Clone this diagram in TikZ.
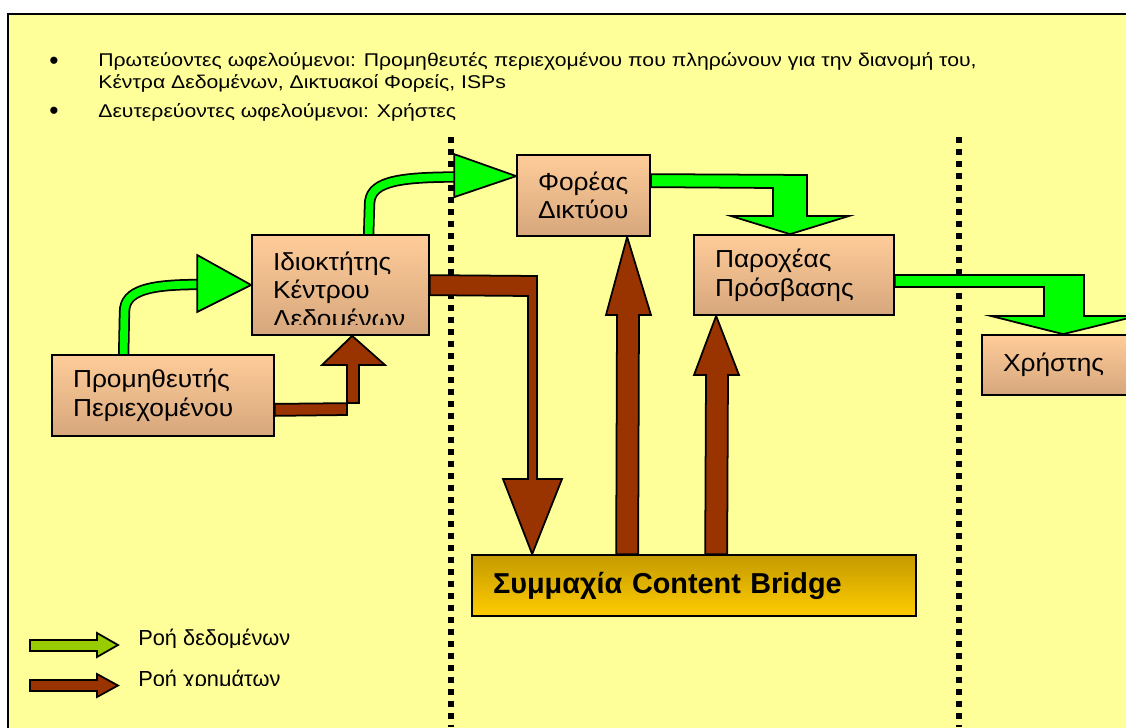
\documentclass[tikz,border=0pt]{standalone}
\usepackage{fontspec}
\setmainfont{Liberation Sans}
\newfontfamily\widefont[FakeStretch=1.15]{Liberation Sans}
\newfontfamily\boxfont[FakeStretch=1.07]{Liberation Sans}
\usetikzlibrary{calc,backgrounds}
\pgfdeclarelayer{paper}
\pgfsetlayers{paper,background,main}

\definecolor{slide}{HTML}{FFFF99}
\definecolor{peachtop}{HTML}{FFCC99}
\definecolor{peachbot}{HTML}{D6A77D}
\definecolor{flowgreen}{HTML}{00FF00}
\definecolor{money}{HTML}{993300}
\definecolor{goldtop}{HTML}{C49A00}
\definecolor{goldbot}{HTML}{FFCC00}
\definecolor{keygreen}{HTML}{99CC00}

\begin{document}
\begin{tikzpicture}[x=0.02cm, y=-0.02cm,
  box/.style={draw=black, line width=1pt, top color=peachtop, bottom color=peachbot,
    inner xsep=0.42cm, inner ysep=0pt, align=left, font=\boxfont\fontsize{14}{16.3}\selectfont},
  boxtext/.style={inner sep=0pt, align=left, font=\boxfont\fontsize{14}{16.3}\selectfont},
  datashaft/.style={draw=black, line width=1pt, double=flowgreen, double distance=0.155cm},
  data/.style={draw=black, line width=1pt, fill=flowgreen, line join=miter},
  cash/.style={draw=black, line width=1pt, fill=money, line join=miter},
  divider/.style={line width=0.11cm, dash pattern=on 0.12cm off 0.12cm},
  bullettext/.style={anchor=base west, inner sep=0pt, align=left, font=\widefont\fontsize{10.5}{12.2}\selectfont},
  keytext/.style={anchor=base west, inner sep=0pt, font=\fontsize{12.4}{14}\selectfont}]
\useasboundingbox (0,0) rectangle (1126,727);
\clip (0,0) rectangle (1126,727);

\begin{pgfonlayer}{paper}
  \clip (0,0) rectangle (1126,727);
  \fill[white] (0,0) rectangle (1126,727);
  \draw[line width=1.1pt, fill=slide] (8,14) rectangle (1160,760);
  \foreach \x in {451,959}
    \draw[divider] (\x,137) -- (\x,727);
\end{pgfonlayer}

\foreach \n/\y in {1/69.5,2/119}
  \node[anchor=base, inner sep=0pt, font=\fontsize{15}{15}\selectfont] (dot\n) at (54,\y) {•};
\node[bullettext] (item1) at (98,88)
  {Πρωτεύοντες ωφελούμενοι: Προμηθευτές περιεχομένου που πληρώνουν για την διανομή του,\\
   Κέντρα Δεδομένων, Δικτυακοί Φορείς, ISPs};
\node[bullettext] (item2) at (98,117) {Δευτερεύοντες ωφελούμενοι: Χρήστες};

\node[box, text width=3.6cm, minimum height=1.62cm] (prov) at (163,395.5) {Προμηθευτής\\Περιεχομένου};
\node[box, text width=2.7cm, minimum height=2cm] (owner) at (340.5,285) {};
\node[box, text width=1.82cm, minimum height=1.62cm] (net) at (583.5,195.5) {Φορέας\\Δικτύου};
\node[box, text width=3.16cm, minimum height=1.6cm] (isp) at (794,275) {Παροχέας\\Πρόσβασης};
\node[box, text width=2.52cm, minimum height=1.2cm] (user) at (1066,365) {Χρήστης};
\node[box, text width=8.04cm, minimum height=1.22cm, top color=goldtop, bottom color=goldbot,
  font=\bfseries\fontsize{16.4}{19}\selectfont] (bridge) at (694,585.5) {Συμμαχία Content Bridge};

\begin{scope}
  \clip (owner.north west) rectangle ($(owner.south east)+(0,-11)$);
  \node[boxtext, text width=2.7cm] (ownername) at ($(owner.center)+(0,7)$)
    {Ιδιοκτήτης\\Κέντρου\\Δεδομένων};
\end{scope}

\begin{pgfonlayer}{background}
  \clip (0,0) rectangle (1126,727);
  % data flow
  \draw[datashaft] ($(prov.north west)+(72.5,0)$) -- (124.5,312)
    .. controls (124.5,290) and (150,284.5) .. (200,284.5);
  \draw[data] ($(owner.west)+(-54,-30)$) -- (owner.west) -- ($(owner.west)+(-54,27)$) -- cycle;
  \draw[datashaft] ($(owner.north west)+(117.5,0)$) -- (369.5,205)
    .. controls (369.5,183) and (392,177) .. (458,177);
  \draw[data] ($(net.north west)+(-62,0)$) -- ($(net.north west)+(0,22)$) -- ($(net.north west)+(-62,43)$) -- cycle;
  \draw[data] ($(net.north east)+(0,20)$) -- (807,175) -- (807,216) -- (849,216)
    -- ($(isp.north)+(-4,0)$) -- (731,216) -- (773,216) -- (773,188) -- ($(net.north east)+(0,33)$) -- cycle;
  \draw[data] (isp.east) -- (1084,275) -- (1084,316) -- (1137,316)
    -- ($(user.north west)+(82,0)$) -- (991,316) -- (1044,316) -- (1044,287) -- ($(isp.east)+(0,12)$) -- cycle;
  % money flow
  \draw[cash] ($(prov.south east)+(0,-33)$) -- (359,403) -- (359,365) -- (385,365)
    -- ($(owner.south west)+(101,0)$) -- (322,365) -- (347,365) -- (347,415) -- ($(prov.south east)+(0,-21)$) -- cycle;
  \draw[cash] ($(owner.north east)+(0,41)$) -- (537,276) -- (537,479) -- (562,479)
    -- ($(bridge.north west)+(61,0)$) -- (503,479) -- (528,479) -- (528,296) -- ($(owner.north east)+(0,61)$) -- cycle;
  \draw[cash] ($(bridge.north west)+(145,0)$) -- (617,315) -- (606,315)
    -- ($(net.south west)+(111,0)$) -- (651,315) -- (639,315) -- ($(bridge.north west)+(167,0)$) -- cycle;
  \draw[cash] ($(bridge.north west)+(234,0)$) -- (706,375) -- (694,375)
    -- ($(isp.south west)+(23,0)$) -- (739,375) -- (728,375) -- ($(bridge.north west)+(256,0)$) -- cycle;
\end{pgfonlayer}

\draw[line width=1pt, fill=keygreen] (30,640) -- (97,640) -- (97,633) -- (118,645)
  -- (97,657) -- (97,651) -- (30,651) -- cycle;
\draw[line width=1pt, fill=money] (30,680) -- (97,680) -- (97,674) -- (118,685.5)
  -- (97,697) -- (97,691) -- (30,691) -- cycle;
\begin{scope}
  \clip (130,620) rectangle (420,647);
  \node[keytext] (datakey) at (138,645.5) {Ροή δεδομένων};
\end{scope}
\begin{scope}
  \clip (130,660) rectangle (420,685);
  \node[keytext] (cashkey) at (138,686.5) {Ροή χρημάτων};
\end{scope}
\end{tikzpicture}
\end{document}
